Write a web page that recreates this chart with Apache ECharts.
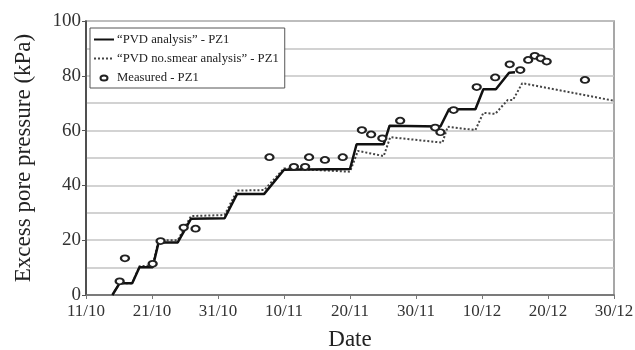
<!DOCTYPE html>
<html>
<head>
<meta charset="utf-8">
<script src="https://cdn.jsdelivr.net/npm/echarts@6/dist/echarts.min.js"></script>
<style>
  html, body { margin: 0; padding: 0; background: #fff; }
  #chart { width: 635px; height: 350px; }
</style>
</head>
<body>
<div id="chart"></div>
<script>
// Days are counted from 11 October (day 0).
const dateTickLabels = ['11/10', '21/10', '31/10', '10/11', '20/11', '30/11', '10/12', '20/12', '30/12'];

// "PVD analysis" - PZ1 (stepped loading response)
const pvdDays   = [4, 5.1, 7, 8.1, 10.1, 11, 13.9, 15.9, 21, 22.9, 27, 30, 40, 41, 45.1, 46, 53.7, 55, 59, 60.2, 62.1, 64.1, 65];
const pvdValues = [0, 4.3, 4.3, 10.1, 10.1, 19.2, 19.2, 27.8, 28, 36.9, 36.9, 45.7, 46, 55, 55, 61.8, 61.5, 67.8, 67.8, 75.1, 75.1, 81.1, 81.3];

// "PVD no.smear analysis" - PZ1
const noSmearDays   = [4, 5.1, 7, 8.1, 10.1, 11, 13.9, 15.9, 21, 22.9, 27, 30, 40, 41.2, 45.1, 46.1, 54, 54.8, 59, 60.2, 62, 63.9, 64.7, 66.1, 80];
const noSmearValues = [0, 4.3, 4.3, 10.5, 10.8, 20, 20, 28.8, 29.2, 38.1, 38.3, 46.2, 45, 52.6, 50.7, 57.6, 55.6, 61.4, 60.2, 66.5, 66.1, 71.2, 71.2, 77.3, 70.9];

// Measured - PZ1
const measuredDays   = [5.1, 5.9, 10.1, 11.3, 14.8, 16.6, 27.8, 31.5, 33.2, 33.8, 36.2, 38.9, 41.8, 43.2, 44.9, 47.6, 52.9, 53.7, 55.7, 59.2, 62.0, 64.2, 65.8, 67.0, 68.0, 68.9, 69.8, 75.6];
const measuredValues = [5, 13.4, 11.4, 19.7, 24.6, 24.2, 50.3, 46.8, 46.8, 50.3, 49.3, 50.3, 60.2, 58.6, 57.2, 63.6, 61.1, 59.4, 67.5, 75.9, 79.4, 84.2, 82.1, 85.8, 87.3, 86.4, 85.2, 78.5];

const zip = (xs, ys) => xs.map((x, i) => [x, ys[i]]);

// Legend icon: a small ellipse inside a 20x12 box (the two moveTo points fix the box).
const smallRingIcon = 'path://M0,0M20,12M6.5,6A3.5,2.5,0,1,1,13.5,6A3.5,2.5,0,1,1,6.5,6Z';
const hiddenSymbol = { color: 'rgba(0,0,0,0)', borderColor: 'rgba(0,0,0,0)', borderWidth: 0, opacity: 0 };

const serif = 'Liberation Serif';
const chart = echarts.init(document.getElementById('chart'), null, { renderer: 'canvas' });

chart.setOption({
  animation: false,
  backgroundColor: '#fff',
  textStyle: { fontFamily: serif, color: '#222' },
  grid: {
    left: 86, right: 21, top: 21, bottom: 55,
    outerBoundsMode: 'none',
    containLabel: false,
    show: true, borderColor: '#8a8a8a', borderWidth: 1.5, backgroundColor: 'transparent'
  },
  legend: {
    orient: 'vertical',
    left: 90, top: 28,
    padding: [5, 6, 3, 3],
    itemWidth: 20, itemHeight: 12, itemGap: 6,
    backgroundColor: '#fff',
    borderColor: '#555', borderWidth: 1, borderRadius: 0,
    textStyle: { fontFamily: serif, fontSize: 12.7, lineHeight: 12, color: '#222', padding: [0, 0, 0, -2] },
    data: [
      { name: '\u201cPVD analysis\u201d - PZ1', itemStyle: hiddenSymbol },
      { name: '\u201cPVD no.smear analysis\u201d - PZ1', itemStyle: hiddenSymbol },
      { name: 'Measured - PZ1', icon: smallRingIcon, itemStyle: { color: '#fff', borderColor: '#222', borderWidth: 2 } }
    ]
  },
  xAxis: {
    type: 'value',
    min: 0, max: 80, interval: 10,
    name: 'Date',
    nameLocation: 'middle',
    nameGap: 33,
    nameTextStyle: { fontFamily: serif, fontSize: 23, color: '#222' },
    axisLine: { show: true, lineStyle: { color: '#666', width: 1.5 } },
    axisTick: { show: true, length: 4, lineStyle: { color: '#777' } },
    axisLabel: {
      fontFamily: serif, fontSize: 17, color: '#333', margin: 8,
      formatter: v => dateTickLabels[Math.round(v / 10)]
    },
    splitLine: { show: false }
  },
  yAxis: {
    type: 'value',
    min: 0, max: 100, interval: 20,
    name: 'Excess pore pressure (kPa)',
    nameLocation: 'middle',
    nameGap: 51,
    nameTextStyle: { fontFamily: serif, fontSize: 23, color: '#222' },
    axisLine: { show: true, lineStyle: { color: '#333', width: 1.5 } },
    axisTick: { show: true, length: 4, lineStyle: { color: '#555' } },
    axisLabel: { fontFamily: serif, fontSize: 19, color: '#333', margin: 5 },
    splitLine: { show: true, lineStyle: { color: '#c4c4c4', width: 1.5 } },
    minorTick: { show: false, splitNumber: 2 },
    minorSplitLine: { show: true, lineStyle: { color: '#c4c4c4', width: 1.5 } }
  },
  series: [
    {
      name: '\u201cPVD analysis\u201d - PZ1',
      type: 'line',
      data: zip(pvdDays, pvdValues),
      symbol: 'none',
      lineStyle: { color: '#111', width: 2.5, type: 'solid' },
      itemStyle: { color: '#111' },
      z: 3
    },
    {
      name: '\u201cPVD no.smear analysis\u201d - PZ1',
      type: 'line',
      data: zip(noSmearDays, noSmearValues),
      symbol: 'none',
      lineStyle: { color: '#444', width: 2, type: [2, 2] },
      itemStyle: { color: '#444' },
      z: 2
    },
    {
      name: 'Measured - PZ1',
      type: 'scatter',
      data: zip(measuredDays, measuredValues),
      symbol: 'circle',
      symbolSize: [8, 6],
      itemStyle: { color: '#fff', borderColor: '#222', borderWidth: 2, opacity: 1 },
      z: 4
    }
  ]
});
</script>
</body>
</html>
